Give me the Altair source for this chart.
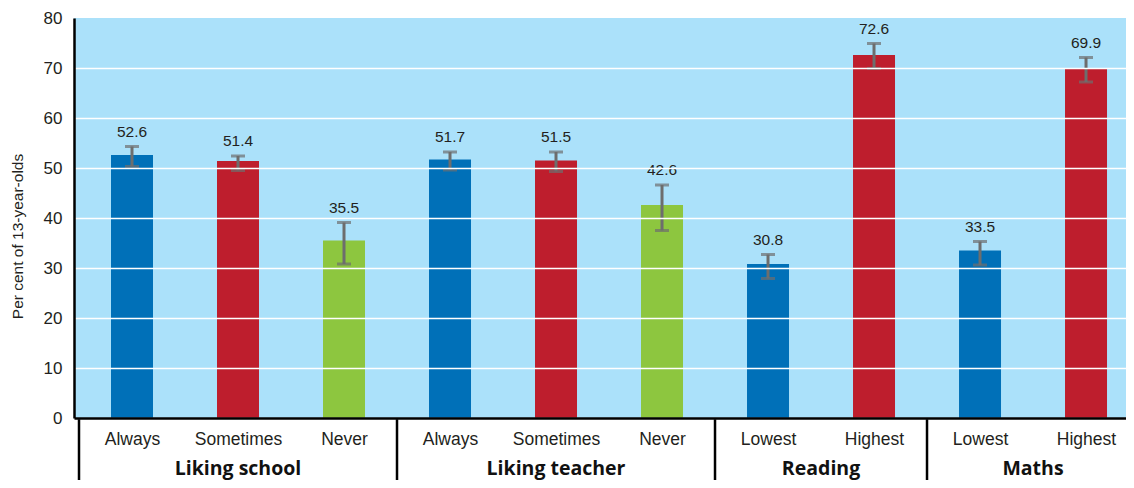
import altair as alt
import pandas as pd

groups = ["Liking school"] * 3 + ["Liking teacher"] * 3 + ["Reading"] * 2 + ["Maths"] * 2
categories = ["Always", "Sometimes", "Never", "Always", "Sometimes", "Never",
              "Lowest", "Highest", "Lowest", "Highest"]
values = [52.6, 51.4, 35.5, 51.7, 51.5, 42.6, 30.8, 72.6, 33.5, 69.9]
lower = [50.3, 49.5, 30.8, 49.6, 49.3, 37.5, 27.9, 69.9, 30.6, 67.2]
upper = [54.3, 52.4, 39.1, 53.2, 53.2, 46.6, 32.7, 74.9, 35.3, 72.1]
y_ticks = [0, 10, 20, 30, 40, 50, 60, 70, 80]
y_title = "Per cent of 13-year-olds"

colour_domain = ["Always", "Sometimes", "Never", "Lowest", "Highest"]
colour_range = ["#0070B8", "#BE1E2D", "#8DC63F", "#0070B8", "#BE1E2D"]

df = pd.DataFrame({"group": groups, "category": categories, "value": values,
                   "lower": lower, "upper": upper})
df["pos"] = [i + 0.5 for i in range(len(df))]

grp = df.groupby("group", sort=False)["pos"].agg(["min", "max"]).reset_index()
grp["center"] = (grp["min"] + grp["max"]) / 2
grp["start"] = grp["min"] - 0.5

W, H = 1052, 400
FONT = "Liberation Sans"

label_array = "[" + ",".join("'" + c + "'" for c in categories) + "]"

x_enc = alt.X(
    "pos:Q",
    title=None,
    scale=alt.Scale(domain=[0, 9.83], nice=False, zero=False),
    axis=alt.Axis(
        values=list(df["pos"]),
        labelExpr=label_array + "[floor(datum.value)]",
        ticks=False, grid=False, domainColor="black", domainWidth=2.5,
        labelFont=FONT, labelFontSize=17.5, labelColor="#231F20",
        labelPadding=12, zindex=1,
    ),
)
y_axis = alt.Axis(
    values=y_ticks, ticks=False, grid=True, gridColor="white", gridWidth=1.5,
    gridOpacity={"condition": {"test": "datum.value === 80", "value": 0}, "value": 1},
    domainColor="black", domainWidth=2.5, labelFont=FONT, labelFontSize=17,
    labelColor="#231F20", labelPadding=12, titleFont=FONT, titleFontSize=15.5,
    titleFontWeight="normal", titleColor="#231F20", titleX=-57, titleY=218,
    titleBaseline="middle", titleAlign="center", titleAngle=270, zindex=1,
)
y_enc = alt.Y("value:Q", title=y_title,
              scale=alt.Scale(domain=[0, 80], nice=False), axis=y_axis)

base = alt.Chart(df)

bars = base.mark_bar(width=42).encode(
    x=x_enc,
    y=y_enc,
    color=alt.Color("category:N", scale=alt.Scale(domain=colour_domain, range=colour_range),
                    legend=None),
)

err = base.mark_rule(color="#6D6D6D", strokeWidth=3).encode(
    x=alt.X("pos:Q", title=None),
    y=alt.Y("lower:Q", title=y_title),
    y2="upper:Q",
)
cap_lo = base.mark_tick(color="#6D6D6D", orient="horizontal", size=14, thickness=3).encode(
    x=alt.X("pos:Q", title=None), y=alt.Y("lower:Q", title=y_title)
)
cap_hi = base.mark_tick(color="#6D6D6D", orient="horizontal", size=14, thickness=3).encode(
    x=alt.X("pos:Q", title=None), y=alt.Y("upper:Q", title=y_title)
)
labels = base.mark_text(font=FONT, fontSize=15.5, color="#231F20", baseline="bottom",
                        dy=-7).encode(
    x=alt.X("pos:Q", title=None),
    y=alt.Y("upper:Q", title=y_title),
    text=alt.Text("value:Q", format=".1f"),
)

seps = alt.Chart(grp).mark_rule(color="black", strokeWidth=2.5).encode(
    x=alt.X("start:Q", title=None),
    y=alt.value(H),
    y2=alt.value(H + 70),
)
group_labels = alt.Chart(grp).mark_text(font="Open Sans", fontWeight="bold", fontSize=19.5,
                                        color="#111111", baseline="alphabetic").encode(
    x=alt.X("center:Q", title=None),
    y=alt.value(H + 57),
    text="group:N",
)

chart = alt.layer(bars, err, cap_lo, cap_hi, labels, seps, group_labels).properties(
    width=W, height=H,
    padding={"left": 66, "top": 10, "right": 0, "bottom": 62},
    autosize=alt.AutoSizeParams(type="none"),
    background="white",
).configure_view(fill="#ABE1FA", strokeWidth=0)

chart.save("out.html", embed_options={"renderer": "svg", "actions": False})
